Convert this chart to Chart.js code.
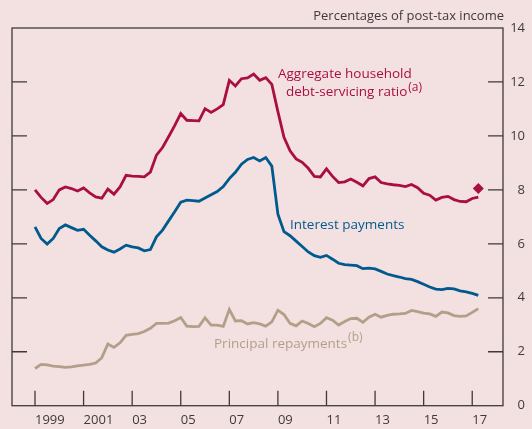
<!DOCTYPE html>
<html>
<head>
<meta charset="utf-8">
<script src="https://cdn.jsdelivr.net/npm/chart.js@4.4.0/dist/chart.umd.min.js"></script>
<style>
  html, body { margin: 0; padding: 0; background: #f3e0e1; }
  #wrap { width: 532px; height: 429px; }
</style>
</head>
<body>
<div id="wrap"><canvas id="chart" width="532" height="429"></canvas></div>
<script>
// quarterly data, 1999 Q1 to 2017 Q2 (per cent of post-tax income)
const startYear = 1999;
const debtServicing = [
  8.0, 7.72, 7.5, 7.64, 8.0, 8.11, 8.05, 7.96, 8.07, 7.89,
  7.74, 7.69, 8.03, 7.84, 8.11, 8.54, 8.51, 8.5, 8.48, 8.66,
  9.29, 9.57, 9.97, 10.38, 10.83, 10.58, 10.57, 10.56, 11.01, 10.87,
  11.0, 11.16, 12.06, 11.85, 12.12, 12.15, 12.29, 12.06, 12.16, 11.91,
  10.9, 9.95, 9.45, 9.15, 9.02, 8.8, 8.5, 8.48, 8.78, 8.5,
  8.27, 8.3, 8.4, 8.28, 8.15, 8.42, 8.48, 8.27, 8.22, 8.19,
  8.17, 8.12, 8.2, 8.08, 7.87, 7.8, 7.62, 7.72, 7.76, 7.64,
  7.57, 7.56, 7.68, 7.73
];
const interestPayments = [
  6.63, 6.2, 5.99, 6.2, 6.57, 6.7, 6.6, 6.5, 6.54, 6.32,
  6.11, 5.89, 5.77, 5.69, 5.81, 5.95, 5.89, 5.85, 5.74, 5.79,
  6.26, 6.51, 6.85, 7.19, 7.54, 7.62, 7.6, 7.58, 7.7, 7.82,
  7.94, 8.12, 8.42, 8.65, 8.95, 9.13, 9.2, 9.07, 9.2, 8.88,
  7.1, 6.45, 6.3, 6.1, 5.9, 5.7, 5.56, 5.5, 5.57, 5.43,
  5.28, 5.23, 5.21, 5.19, 5.08, 5.1, 5.07, 4.98, 4.88, 4.82,
  4.77, 4.71, 4.68, 4.6, 4.5, 4.4, 4.32, 4.3, 4.35, 4.33,
  4.26, 4.22, 4.16, 4.09
];
const principalRepayments = [
  1.38, 1.53, 1.51, 1.47, 1.45, 1.42, 1.44, 1.48, 1.5, 1.53,
  1.58, 1.78, 2.29, 2.16, 2.33, 2.61, 2.64, 2.67, 2.75, 2.87,
  3.05, 3.05, 3.06, 3.15, 3.27, 2.95, 2.93, 2.94, 3.26, 2.99,
  2.99, 2.94, 3.57, 3.14, 3.15, 3.03, 3.08, 3.03, 2.95, 3.11,
  3.54, 3.38, 3.05, 2.96, 3.14, 3.05, 2.93, 3.05, 3.26, 3.17,
  2.99, 3.12, 3.23, 3.24, 3.09, 3.28, 3.39, 3.28, 3.35, 3.39,
  3.4, 3.42, 3.53, 3.49, 3.43, 3.4, 3.31, 3.47, 3.44, 3.34,
  3.31, 3.33, 3.46, 3.6
];
const latestEstimate = 8.05;

const yearTicks = [1999, 2001, 2003, 2005, 2007, 2009, 2011, 2013, 2015, 2017];
const yearLabels = ['1999', '2001', '03', '05', '07', '09', '11', '13', '15', '17'];
const valueTicks = [0, 2, 4, 6, 8, 10, 12, 14];

const quarters = debtServicing.map((_, i) => startYear + i / 4);
const toPoints = arr => arr.map((v, i) => ({ x: quarters[i], y: v }));

const RED = '#a90f43';
const BLUE = '#005a8e';
const TAN = '#b39f88';
const INK = '#3e3a3b';
const FONT = "'Open Sans', 'Noto Sans', sans-serif";

// frame, inward tick marks and series labels
const frameAndNotes = {
  id: 'frameAndNotes',
  beforeDatasetsDraw(chart) {
    const { ctx, chartArea: a, scales } = chart;
    ctx.save();
    ctx.strokeStyle = INK;
    ctx.lineWidth = 1.3;
    ctx.strokeRect(a.left, a.top, a.right - a.left, a.bottom - a.top);
    ctx.beginPath();
    valueTicks.slice(1, -1).forEach(v => {
      const y = scales.y.getPixelForValue(v);
      ctx.moveTo(a.left, y); ctx.lineTo(a.left + 15, y);
      ctx.moveTo(a.right, y); ctx.lineTo(a.right - 15, y);
    });
    yearTicks.forEach(v => {
      const x = scales.x.getPixelForValue(v);
      ctx.moveTo(x, a.bottom); ctx.lineTo(x, a.bottom - 15);
    });
    ctx.stroke();
    ctx.restore();
  },
  afterDraw(chart) {
    const { ctx, chartArea: a } = chart;
    ctx.save();
    ctx.textBaseline = 'alphabetic';
    ctx.fillStyle = INK;
    ctx.font = '13px ' + FONT;
    ctx.textAlign = 'right';
    ctx.fillText('Percentages of post-tax income', a.right + 1, 19.5);

    ctx.textAlign = 'left';
    ctx.font = '13.5px ' + FONT;
    ctx.fillStyle = RED;
    ctx.fillText('Aggregate household', 278, 78);
    ctx.fillText('debt-servicing ratio', 286, 96);
    let w = ctx.measureText('debt-servicing ratio').width;
    ctx.font = '12px ' + FONT;
    ctx.fillText('(a)', 286 + w + 1, 91);

    ctx.font = '13.5px ' + FONT;
    ctx.fillStyle = BLUE;
    ctx.fillText('Interest payments', 290, 228.5);

    ctx.fillStyle = TAN;
    ctx.fillText('Principal repayments', 214, 348);
    w = ctx.measureText('Principal repayments').width;
    ctx.font = '12px ' + FONT;
    ctx.fillText('(b)', 214 + w + 1, 341);
    ctx.restore();
  }
};

new Chart(document.getElementById('chart'), {
  type: 'line',
  data: {
    datasets: [
      { data: toPoints(debtServicing), borderColor: RED, borderWidth: 2.8, pointRadius: 0, tension: 0 },
      { data: toPoints(interestPayments), borderColor: BLUE, borderWidth: 2.8, pointRadius: 0, tension: 0 },
      { data: toPoints(principalRepayments), borderColor: TAN, borderWidth: 2.8, pointRadius: 0, tension: 0 },
      {
        data: [{ x: quarters[quarters.length - 1], y: latestEstimate }],
        showLine: false, pointStyle: 'rectRot', pointRadius: 5.5,
        backgroundColor: RED, borderColor: RED, borderWidth: 0
      }
    ]
  },
  options: {
    responsive: false,
    devicePixelRatio: 1,
    animation: false,
    layout: { padding: { top: 28, left: 12, right: 7, bottom: 0 } },
    plugins: { legend: { display: false }, tooltip: { enabled: false } },
    scales: {
      x: {
        type: 'linear',
        min: 1998.053,
        max: 2018.267,
        afterBuildTicks: s => { s.ticks = yearTicks.map(v => ({ value: v })); },
        afterFit: s => { s.height = 23.3; },
        grid: { display: false, drawTicks: false },
        border: { display: false },
        ticks: {
          align: 'start',
          padding: 7,
          maxRotation: 0,
          autoSkip: false,
          color: INK,
          font: { family: FONT, size: 13 },
          callback: v => yearLabels[yearTicks.indexOf(v)]
        }
      },
      y: {
        position: 'right',
        min: 0,
        max: 14,
        afterBuildTicks: s => { s.ticks = valueTicks.map(v => ({ value: v })); },
        afterFit: s => { s.width = 22; },
        grid: { display: false, drawTicks: false },
        border: { display: false },
        ticks: {
          crossAlign: 'far',
          padding: 7,
          color: INK,
          font: { family: FONT, size: 13 }
        }
      }
    }
  },
  plugins: [frameAndNotes]
});
</script>
</body>
</html>
